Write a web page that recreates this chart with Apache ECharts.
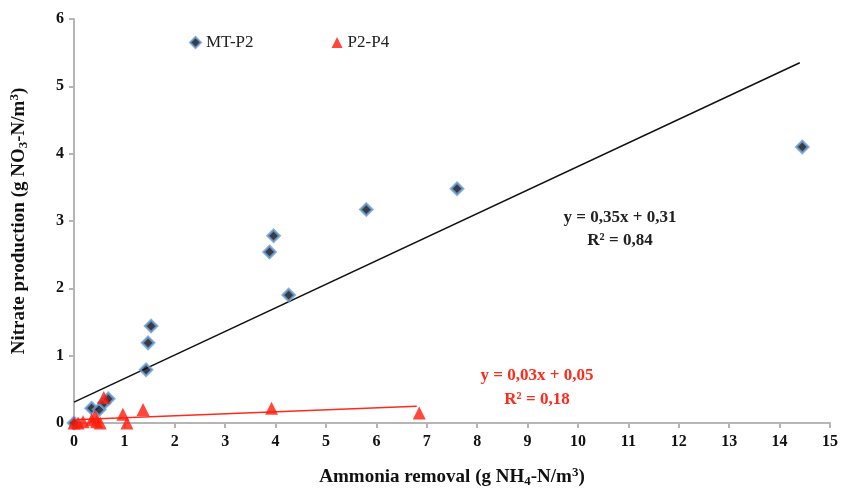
<!DOCTYPE html>
<html><head><meta charset="utf-8">
<script src="https://cdn.jsdelivr.net/npm/echarts@6/dist/echarts.min.js"></script>
<style>html,body{margin:0;padding:0;background:#fff}#c{width:843px;height:493px}</style>
</head><body><div id="c"></div>
<script>
var mtP2 = [[0,0],[0.35,0.22],[0.5,0.2],[0.6,0.3],[0.68,0.36],[1.43,0.79],[1.47,1.19],[1.53,1.44],[3.88,2.54],[3.96,2.78],[4.26,1.9],[5.8,3.17],[7.6,3.48],[14.45,4.1]];
var p2P4 = [[0,0],[0.08,0],[0.18,0.02],[0.35,0.05],[0.42,0.1],[0.45,0.02],[0.52,0],[0.59,0.38],[0.97,0.13],[1.05,0],[1.37,0.2],[3.92,0.22],[6.85,0.15]];
var trendMT = [[0,0.31],[14.4,5.35]];
var trendP2 = [[0,0.05],[6.8,0.25]];
var xTicks = [0,1,2,3,4,5,6,7,8,9,10,11,12,13,14,15];
var yTicks = [0,1,2,3,4,5,6];
var eqMT = ['y = 0,35x + 0,31','R² = 0,84'];
var eqP2 = ['y = 0,03x + 0,05','R² = 0,18'];

var serif = '"Liberation Serif","Times New Roman",serif';
var richName = {
  t:{fontFamily:serif,fontWeight:'bold',fontSize:19,color:'#111',lineHeight:22},
  sub:{fontFamily:serif,fontWeight:'bold',fontSize:13,color:'#111',lineHeight:22,verticalAlign:'bottom',padding:[7,0,0,0]},
  sup:{fontFamily:serif,fontWeight:'bold',fontSize:13,color:'#111',lineHeight:22,verticalAlign:'top',padding:[0,0,6,0]}
};
var chart = echarts.init(document.getElementById('c'));
chart.setOption({
  animation:false,
  backgroundColor:'#fff',
  grid:{left:73,right:13,top:19,bottom:65},
  legend:{
    top:29,left:184,itemGap:78,itemWidth:11,itemHeight:11,
    textStyle:{fontFamily:serif,fontSize:17,color:'#222'},
    data:[{name:'MT-P2',icon:'diamond'},{name:'P2-P4',icon:'triangle'}]
  },
  xAxis:{
    type:'value',min:xTicks[0],max:xTicks[xTicks.length-1],interval:1,
    splitLine:{show:false},
    axisLine:{lineStyle:{color:'#b5b5b5',width:2}},
    axisTick:{show:true,length:5,inside:false,lineStyle:{color:'#b5b5b5',width:2}},
    axisLabel:{fontFamily:serif,fontWeight:'bold',fontSize:16,color:'#111',margin:11},
    name:'{t|Ammonia removal (g NH}{sub|4}{t|-N/m}{sup|3}{t|)}',
    nameLocation:'middle',nameGap:43,
    nameTextStyle:{rich:richName}
  },
  yAxis:{
    type:'value',min:yTicks[0],max:yTicks[yTicks.length-1],interval:1,
    splitLine:{show:false},
    axisLine:{show:true,lineStyle:{color:'#b5b5b5',width:2}},
    axisTick:{show:true,length:5,lineStyle:{color:'#b5b5b5',width:2}},
    axisLabel:{fontFamily:serif,fontWeight:'bold',fontSize:16,color:'#111',margin:10},
    name:'{t|Nitrate production (g NO}{sub|3}{t|-N/m}{sup|3}{t|)}',
    nameLocation:'middle',nameRotate:90,nameGap:44,
    nameTextStyle:{rich:richName}
  },
  series:[
    {name:'trendMT',type:'line',data:trendMT,symbol:'none',silent:true,
     lineStyle:{color:'#111',width:1.5},z:1},
    {name:'trendP2',type:'line',data:trendP2,symbol:'none',silent:true,
     lineStyle:{color:'#ff2a1a',width:1.5},z:1},
    {name:'MT-P2',type:'scatter',data:mtP2,symbol:'diamond',symbolSize:12,
     itemStyle:{color:'#0a0a14',borderColor:'#6a9fd4',borderWidth:2.5},z:3},
    {name:'P2-P4',type:'scatter',data:p2P4,symbol:'triangle',symbolSize:13,
     itemStyle:{color:'#ff1a0a'},z:4}
  ],
  graphic:[
    {type:'text',position:[620,218],style:{text:eqMT[0],x:0,y:0,align:'center',verticalAlign:'middle',font:'bold 17px '+serif,fill:'#222'}},
    {type:'text',position:[620,241],style:{text:eqMT[1],x:0,y:0,align:'center',verticalAlign:'middle',font:'bold 17px '+serif,fill:'#222'}},
    {type:'text',position:[537,376],style:{text:eqP2[0],x:0,y:0,align:'center',verticalAlign:'middle',font:'bold 17px '+serif,fill:'#ff2a1a'}},
    {type:'text',position:[537,400],style:{text:eqP2[1],x:0,y:0,align:'center',verticalAlign:'middle',font:'bold 17px '+serif,fill:'#ff2a1a'}}
  ]
});
</script></body></html>
